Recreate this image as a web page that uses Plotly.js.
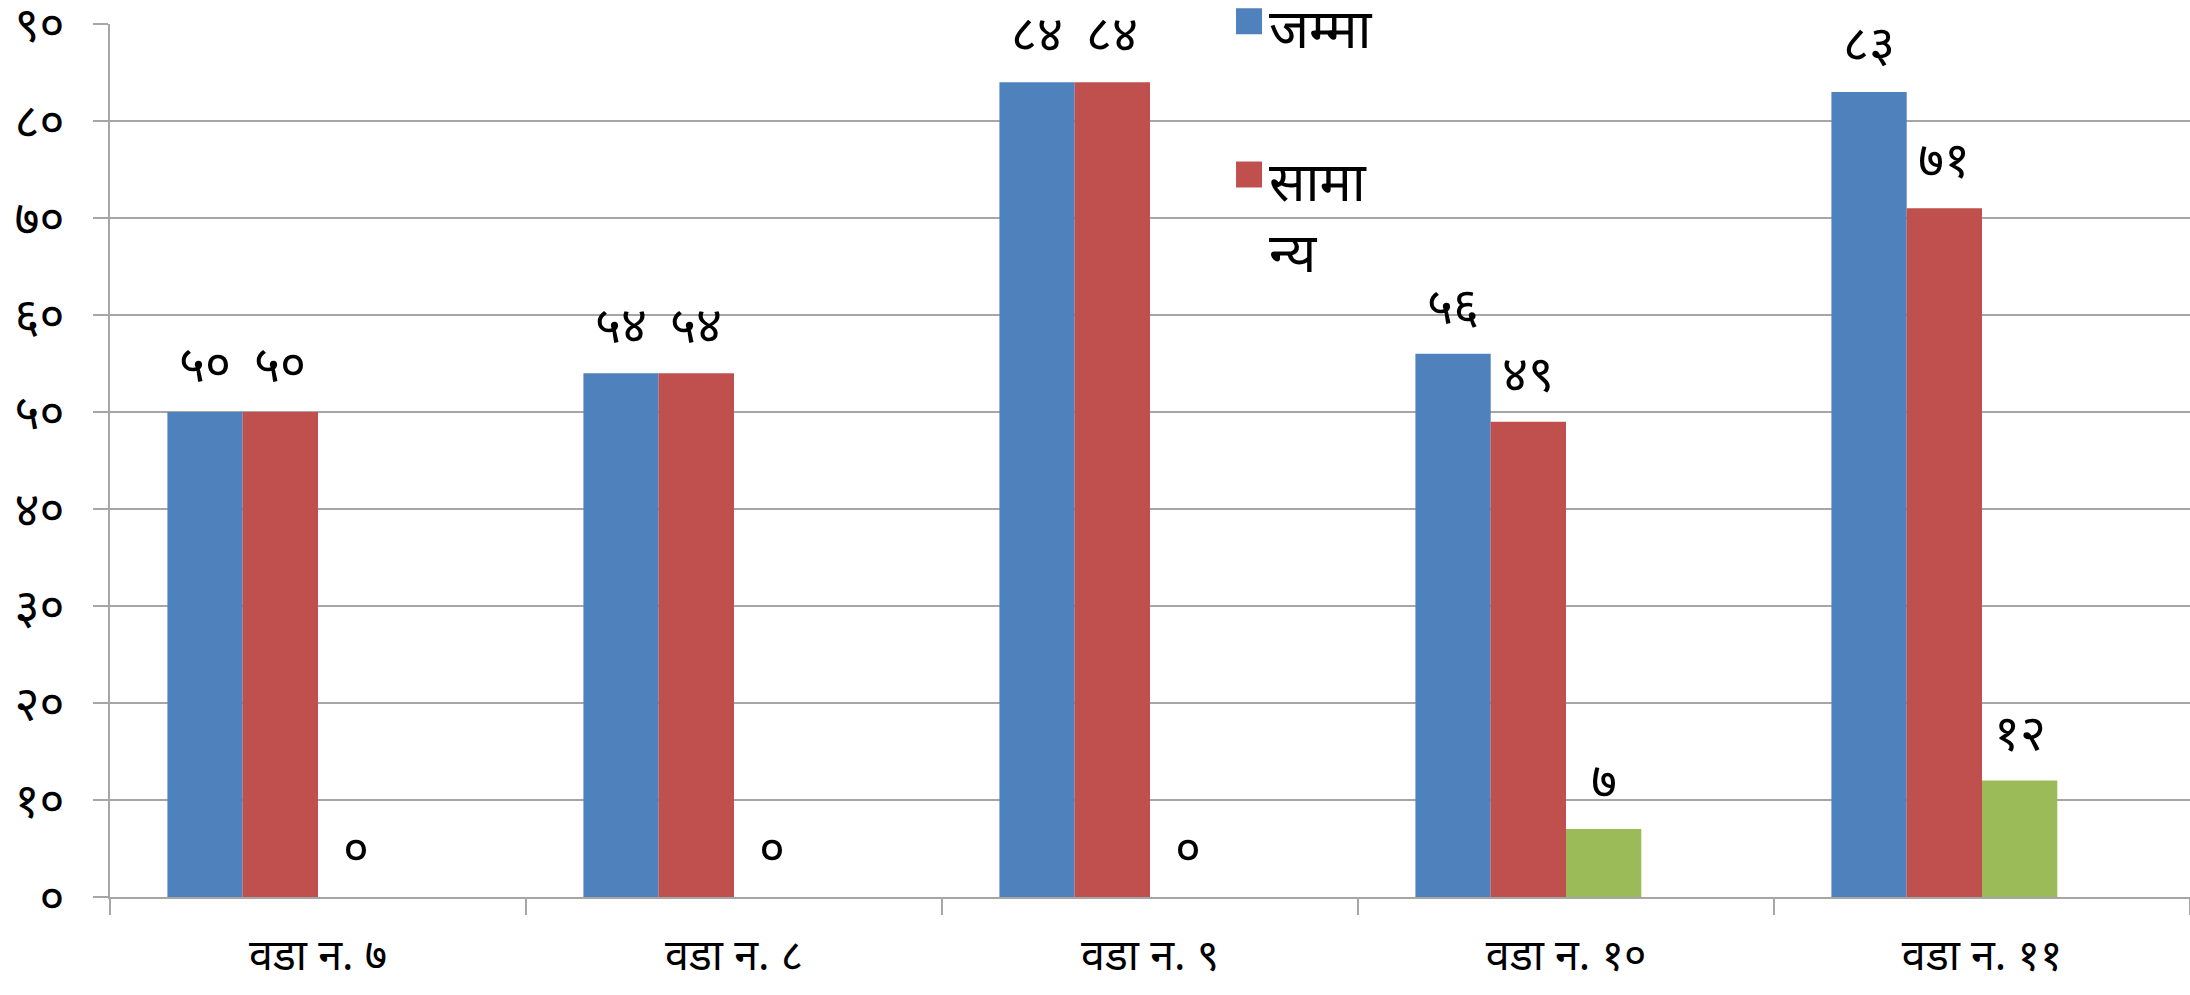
<!DOCTYPE html>
<html>
<head>
<meta charset="utf-8">
<script src="https://cdn.plot.ly/plotly-3.0.1.min.js"></script>
<style>html,body{margin:0;padding:0;background:#fff;}#chart{width:2190px;height:995px;}</style>
</head>
<body>
<div id="chart"></div>
<script>
// Data
const categories = ["वडा न. ७", "वडा न. ८", "वडा न. ९", "वडा न. १०", "वडा न. ११"];
const totalValues = [50, 54, 84, 56, 83];      // जम्मा
const generalValues = [50, 54, 84, 49, 71];    // सामान्य
const thirdValues = [0, 0, 0, 7, 12];          // third series
const seriesNames = ["जम्मा", "सामा<br>न्य", "अन्य"];
const yTickVals = [0, 10, 20, 30, 40, 50, 60, 70, 80, 90];
const yTickText = ["०", "१०", "२०", "३०", "४०", "५०", "६०", "७०", "८०", "९०"];

const devDigits = ["०","१","२","३","४","५","६","७","८","९"];
function toDev(n) { return String(n).split("").map(d => devDigits[+d]).join(""); }

const FONT = "'Noto Sans Devanagari', 'Noto Sans', 'DejaVu Sans', sans-serif";
const colors = ["#4F81BD", "#C0504D", "#9BBB59"];
const series = [totalValues, generalValues, thirdValues];
const barWidth = 0.181;
const offsets = [-0.362, -0.181, 0.0];

const traces = series.map((vals, i) => ({
  type: "bar",
  x: categories,
  y: vals,
  name: seriesNames[i],
  width: barWidth,
  offset: offsets[i],
  marker: { color: colors[i] },
  showlegend: i < 2,
  legendgroup: "g" + i,
  hoverinfo: "x+y"
}));

const annotations = [];
series.forEach((vals, i) => {
  vals.forEach((v, j) => {
    annotations.push({
      x: j + offsets[i] + barWidth / 2,
      y: v,
      xref: "x", yref: "y",
      text: toDev(v),
      showarrow: false,
      yanchor: "bottom",
      yshift: 9,
      font: { family: FONT, size: 50, color: "#000" }
    });
  });
});

const layout = {
  width: 2190, height: 995,
  margin: { l: 110, r: 0, t: 24, b: 98, autoexpand: false },
  paper_bgcolor: "#fff", plot_bgcolor: "#fff",
  barmode: "group",
  font: { family: FONT, color: "#000" },
  xaxis: {
    type: "category",
    range: [-0.5, 4.5],
    tickson: "boundaries",
    ticks: "outside", ticklen: 16, tickcolor: "#a6a6a6", tickwidth: 2,
    showline: true, linecolor: "#a6a6a6", linewidth: 2,
    showgrid: false,
    tickfont: { family: FONT, size: 43, color: "#000" },
    ticklabelstandoff: 19
  },
  yaxis: {
    range: [0, 90],
    tickvals: yTickVals, ticktext: yTickText,
    ticks: "outside", ticklen: 15, tickcolor: "#a6a6a6", tickwidth: 2,
    showline: true, linecolor: "#a6a6a6", linewidth: 2,
    showgrid: true, gridcolor: "#a6a6a6", gridwidth: 2,
    zeroline: false,
    ticklabeloverflow: "allow",
    tickfont: { family: FONT, size: 48, color: "#000" },
    ticklabelstandoff: 19
  },
  legend: {
    x: 0.538, y: 1.044, xanchor: "left", yanchor: "top",
    font: { family: FONT, size: 54, color: "#000" },
    bgcolor: "rgba(0,0,0,0)",
    traceorder: "grouped",
    tracegroupgap: 80
  },
  annotations: annotations
};

Plotly.newPlot("chart", traces, layout, { displayModeBar: false }).then(gd => {
  // enlarge legend swatches and align each with the first line of its label
  gd.querySelectorAll(".legend .traces").forEach(tr => {
    const pts = tr.querySelector(".legendpoints");
    const txt = tr.querySelector("text.legendtext");
    if (!pts || !txt) return;
    pts.querySelectorAll("path").forEach(p => p.setAttribute("d", "M13,13H-13V-13H13Z"));
    const lines = txt.querySelectorAll("tspan.line");
    let dy = -6;
    if (lines.length > 1) {
      const bb = txt.getBBox();
      dy += -(bb.height / lines.length) * (lines.length - 1) / 2;
    }
    pts.setAttribute("transform", "translate(0," + dy + ")");
  });
});
</script>
</body>
</html>
